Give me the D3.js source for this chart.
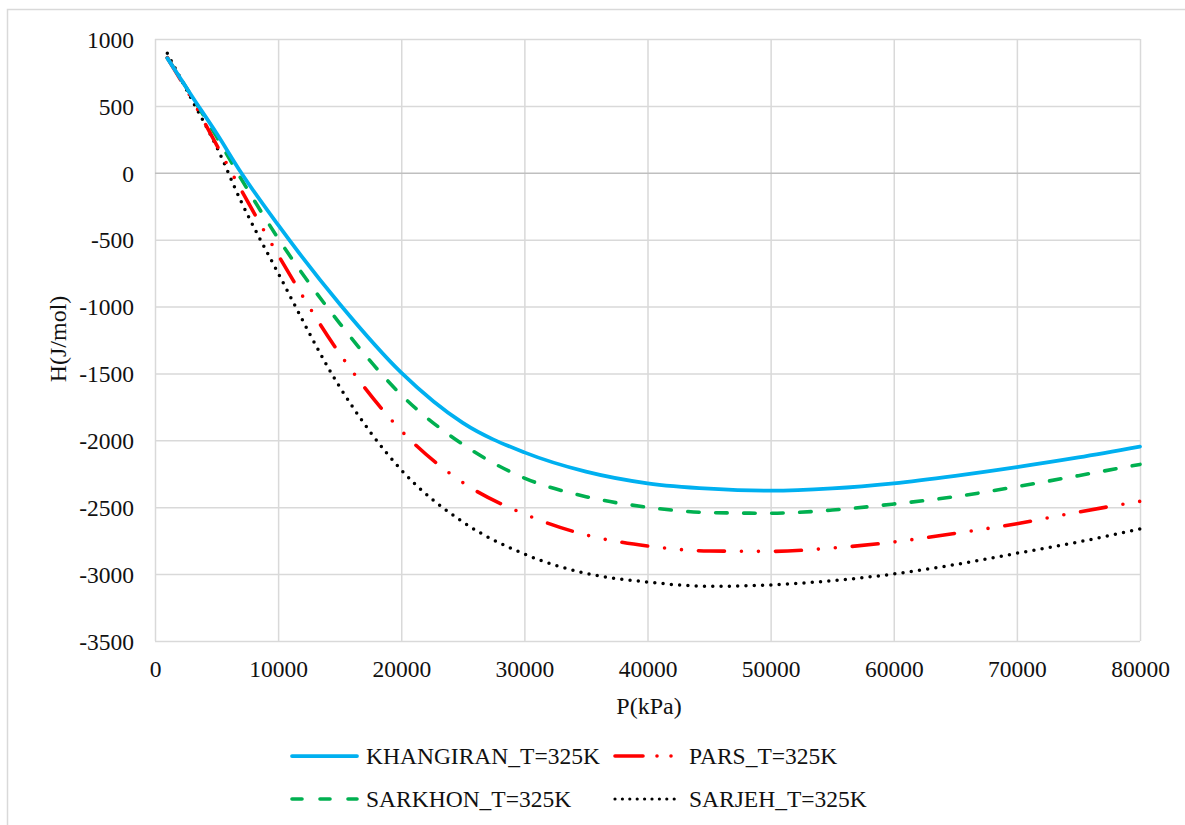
<!DOCTYPE html>
<html>
<head>
<meta charset="utf-8">
<script src="https://cdn.jsdelivr.net/npm/d3@7"></script>
<style>
  html, body { margin: 0; padding: 0; background: #fff; }
  svg text { font-family: "Liberation Serif", "Tinos", "Times New Roman", "DejaVu Serif", serif; fill: #111; }
</style>
</head>
<body>
<svg id="chart" width="1185" height="825"></svg>
<script>
// Pressure points (kPa)
const pressure = [1000, 3000, 5000, 7000, 10000, 15000, 20000, 25000, 30000, 35000, 40000,
                  45000, 50000, 55000, 60000, 65000, 70000, 75000, 80000];

// Enthalpy (J/mol) per gas field at T = 325 K
const khangiran = [857, 572, 295, 0, -390, -981, -1494, -1870, -2090, -2234, -2321,
                   -2361, -2376, -2359, -2321, -2265, -2200, -2128, -2047];
const pars      = [860, 549, 208, -129, -614, -1352, -1928, -2316, -2551, -2707, -2790,
                   -2827, -2830, -2805, -2760, -2695, -2623, -2536, -2456];
const sarkhon   = [860, 569, 270, -46, -490, -1125, -1660, -2030, -2282, -2421, -2500,
                   -2540, -2545, -2521, -2476, -2421, -2346, -2264, -2180];
const sarjeh    = [893, 544, 195, -216, -750, -1601, -2221, -2610, -2850, -2994, -3059,
                   -3091, -3081, -3049, -2999, -2929, -2844, -2760, -2663];

const seriesNames = ["KHANGIRAN_T=325K", "PARS_T=325K", "SARKHON_T=325K", "SARJEH_T=325K"];
const seriesValues = [khangiran, pars, sarkhon, sarjeh];

// Tick values
const xTicks = [0, 10000, 20000, 30000, 40000, 50000, 60000, 70000, 80000];
const yTicks = [1000, 500, 0, -500, -1000, -1500, -2000, -2500, -3000, -3500];

const xTitle = "P(kPa)";
const yTitle = "H(J/mol)";

const FONT = "'Liberation Serif', Tinos, 'Times New Roman', 'DejaVu Serif', serif";
// Plain hyphen-minus for negative numbers
const fmt = d => String(d);

// Line styles
const styles = [
  { color: "#00b0f0", width: 3.75, dash: null },
  { color: "#ff0000", width: 3.6, dash: "26,17,0,17,0,17" },
  { color: "#00b050", width: 3.6, dash: "11.5,16.5" },
  { color: "#000000", width: 3.5, dash: "0,8.3" }
];
const legendDash = [null, "28,14,0,14,0,14", "10,18", "0,7.4"];

const svg = d3.select("#chart").attr("font-family", FONT);
const plot = { left: 155, right: 1140, top: 39, bottom: 641 };

// Chart area border
svg.append("rect")
  .attr("x", 7.5).attr("y", 9.5)
  .attr("width", 1195).attr("height", 840)
  .attr("fill", "#fff")
  .attr("stroke", "#d9d9d9").attr("stroke-width", 1.5);

const x = d3.scaleLinear().domain([0, 80000]).range([plot.left, plot.right]);
const y = d3.scaleLinear().domain([-3500, 1000]).range([plot.bottom, plot.top]);

// Vertical gridlines
const gx = svg.append("g")
  .attr("transform", `translate(0,${plot.bottom})`)
  .call(d3.axisBottom(x).tickValues(xTicks).tickSize(-(plot.bottom - plot.top)).tickFormat(""));
gx.select(".domain").remove();
gx.selectAll(".tick line").attr("stroke", "#d9d9d9").attr("stroke-width", 1.5);

// Horizontal gridlines
const gy = svg.append("g")
  .attr("transform", `translate(${plot.left},0)`)
  .call(d3.axisLeft(y).tickValues(yTicks).tickSize(-(plot.right - plot.left)).tickFormat(""));
gy.select(".domain").remove();
gy.selectAll(".tick line")
  .attr("stroke", d => d === 0 ? "#bfbfbf" : "#d9d9d9")
  .attr("stroke-width", 1.5);

// X tick labels
const ax = svg.append("g")
  .attr("transform", `translate(0,${plot.bottom})`)
  .call(d3.axisBottom(x).tickValues(xTicks).tickSize(0).tickPadding(0).tickFormat(fmt));
ax.attr("font-family", FONT).attr("font-size", 23.5);
ax.select(".domain").remove();
ax.selectAll(".tick text")
  .attr("y", 28)
  .attr("dy", "0.35em")
  .attr("fill", "#111");

// Y tick labels
const ay = svg.append("g")
  .attr("transform", `translate(${plot.left},0)`)
  .call(d3.axisLeft(y).tickValues(yTicks).tickSize(0).tickPadding(0).tickFormat(fmt));
ay.attr("font-family", FONT).attr("font-size", 23.5);
ay.select(".domain").remove();
ay.selectAll(".tick text")
  .attr("x", -21)
  .attr("dy", "0.35em")
  .attr("fill", "#111");

// Axis titles
svg.append("text")
  .attr("x", 649).attr("y", 706)
  .attr("text-anchor", "middle")
  .attr("dy", "0.35em")
  .attr("font-size", 24)
  .text(xTitle);

svg.append("text")
  .attr("transform", `translate(58,339) rotate(-90)`)
  .attr("text-anchor", "middle")
  .attr("dy", "0.35em")
  .attr("font-size", 24)
  .text(yTitle);

// Series lines
const line = d3.line()
  .x(d => x(d[0]))
  .y(d => y(d[1]))
  .curve(d3.curveMonotoneX);

[3, 2, 1, 0].forEach(i => {
  const pts = pressure.map((p, k) => [p, seriesValues[i][k]]);
  const s = styles[i];
  svg.append("path")
    .datum(pts)
    .attr("d", line)
    .attr("fill", "none")
    .attr("stroke", s.color)
    .attr("stroke-width", s.width)
    .attr("stroke-linecap", "round")
    .attr("stroke-linejoin", "round")
    .attr("stroke-dasharray", s.dash);
});

// Legend
const legendPos = [
  { lx: 290, ly: 756 },
  { lx: 613, ly: 756 },
  { lx: 290, ly: 799 },
  { lx: 613, ly: 799 }
];
const legendLen = [69, 64, 69, 64];
seriesNames.forEach((name, i) => {
  const s = styles[i];
  const p = legendPos[i];
  const g = svg.append("g").attr("transform", `translate(${p.lx},${p.ly})`);
  g.append("line")
    .attr("x1", 2).attr("x2", legendLen[i] - 2)
    .attr("y1", 0).attr("y2", 0)
    .attr("stroke", s.color)
    .attr("stroke-width", i === 3 ? 3.2 : s.width)
    .attr("stroke-linecap", "round")
    .attr("stroke-dasharray", legendDash[i]);
  g.append("text")
    .attr("x", 76)
    .attr("y", 0)
    .attr("dy", "0.35em")
    .attr("font-size", 23.5)
    .text(name);
});
</script>
</body>
</html>
